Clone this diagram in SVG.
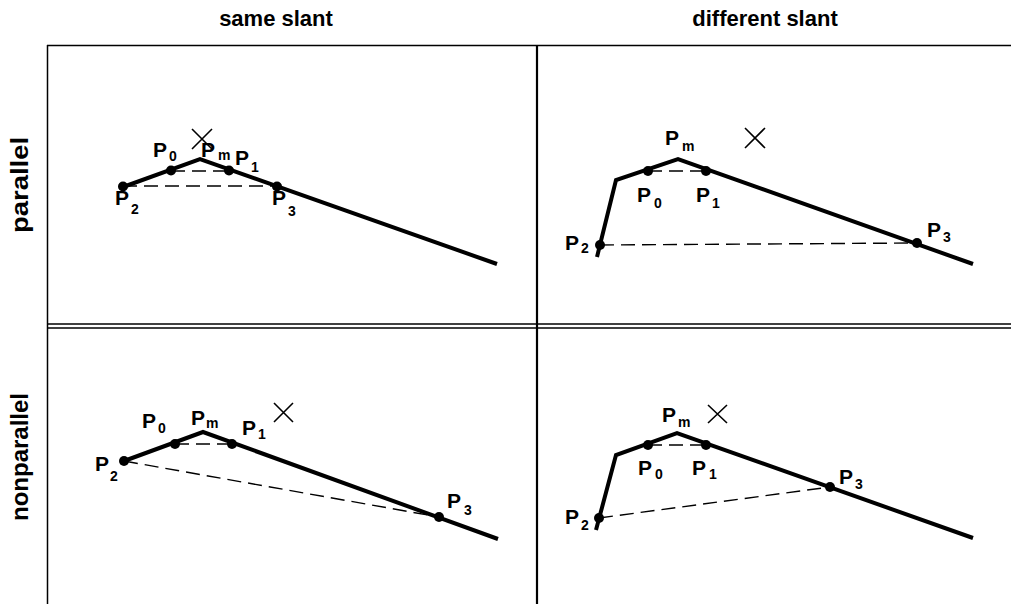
<svg xmlns="http://www.w3.org/2000/svg" width="1011" height="604" viewBox="0 0 1011 604">
<style>
.hdr{font-family:"Liberation Sans",Arial,sans-serif;font-weight:bold;font-size:22px;fill:#000}
.side{font-family:"Liberation Sans",Arial,sans-serif;font-weight:bold;font-size:24px;fill:#000}
.p{font-family:"Liberation Sans",Arial,sans-serif;font-weight:bold;font-size:21px;fill:#000}
.s{font-family:"Liberation Sans",Arial,sans-serif;font-weight:bold;font-size:14px;fill:#000}
.frame{stroke:#000;stroke-width:1.5;fill:none}
.curve{stroke:#000;stroke-width:4;fill:none;stroke-linejoin:miter}
.dash{stroke:#000;stroke-width:1.4;fill:none;stroke-dasharray:14,7}
.cross{stroke:#000;stroke-width:1.6;fill:none}
.dot{fill:#000}
</style>
<rect width="1011" height="604" fill="#fff"/>
<g id="frame">
<line class="frame" x1="47" y1="45.5" x2="1011" y2="45.5"/>
<line class="frame" x1="47.5" y1="45" x2="47.5" y2="604"/>
<line class="frame" x1="537" y1="45" x2="537" y2="604" style="stroke-width:2.2"/>
<line class="frame" x1="47" y1="324" x2="1011" y2="324"/>
<line class="frame" x1="47" y1="328" x2="1011" y2="328"/>
</g>
<g id="headers">
<text class="hdr" x="276" y="26" text-anchor="middle">same slant</text>
<text class="hdr" x="765" y="26" text-anchor="middle">different slant</text>
<text class="side" transform="translate(28,185) rotate(-90)" text-anchor="middle" textLength="96" lengthAdjust="spacingAndGlyphs">parallel</text>
<text class="side" transform="translate(28,457) rotate(-90)" text-anchor="middle" textLength="128" lengthAdjust="spacingAndGlyphs">nonparallel</text>
</g>
<g id="panel-same-parallel">
<polyline class="curve" points="123,187 200,159 497,264"/>
<line class="dash" x1="171" y1="171" x2="229" y2="171"/>
<line class="dash" x1="123" y1="186" x2="277" y2="186"/>
<circle class="dot" cx="123" cy="186.5" r="5"/>
<circle class="dot" cx="171" cy="170.5" r="5"/>
<circle class="dot" cx="229" cy="170.5" r="5"/>
<circle class="dot" cx="277" cy="186.5" r="5"/>
<path class="cross" d="M192,129 L212,149 M212,129 L192,149"/>
<text class="p" x="153" y="157">P</text><text class="s" x="169" y="161">0</text>
<text class="p" x="201" y="157">P</text><text class="s" x="218" y="160">m</text>
<text class="p" x="235" y="165">P</text><text class="s" x="251" y="172">1</text>
<text class="p" x="115" y="205">P</text><text class="s" x="131" y="214">2</text>
<text class="p" x="272" y="205">P</text><text class="s" x="288" y="216">3</text>
</g>
<g id="panel-different-parallel">
<polyline class="curve" points="597,257 616,180 678,159 973,264"/>
<line class="dash" x1="648" y1="171" x2="706" y2="171"/>
<line class="dash" x1="600" y1="245" x2="917" y2="243"/>
<circle class="dot" cx="648" cy="171" r="5"/>
<circle class="dot" cx="706" cy="171" r="5"/>
<circle class="dot" cx="600" cy="245" r="5"/>
<circle class="dot" cx="917" cy="243" r="5"/>
<path class="cross" d="M745,128 L765,148 M765,128 L745,148"/>
<text class="p" x="665" y="145">P</text><text class="s" x="682" y="151">m</text>
<text class="p" x="637" y="202">P</text><text class="s" x="654" y="208">0</text>
<text class="p" x="696" y="202">P</text><text class="s" x="712" y="208">1</text>
<text class="p" x="565" y="250">P</text><text class="s" x="581" y="253">2</text>
<text class="p" x="927" y="237">P</text><text class="s" x="943" y="242">3</text>
</g>
<g id="panel-same-nonparallel">
<polyline class="curve" points="124,461 203,432 498,539"/>
<line class="dash" x1="175" y1="444" x2="232" y2="444"/>
<line class="dash" x1="124" y1="461" x2="439" y2="517"/>
<circle class="dot" cx="124" cy="461" r="5"/>
<circle class="dot" cx="175" cy="444" r="5"/>
<circle class="dot" cx="232" cy="444" r="5"/>
<circle class="dot" cx="439" cy="517" r="5"/>
<path class="cross" d="M274,403 L293,422 M293,403 L274,422"/>
<text class="p" x="142" y="428">P</text><text class="s" x="158" y="433">0</text>
<text class="p" x="191" y="425">P</text><text class="s" x="206" y="428">m</text>
<text class="p" x="242" y="435">P</text><text class="s" x="258" y="439">1</text>
<text class="p" x="95" y="471">P</text><text class="s" x="110" y="481">2</text>
<text class="p" x="447" y="508">P</text><text class="s" x="464" y="515">3</text>
</g>
<g id="panel-different-nonparallel">
<polyline class="curve" points="596,530 616,455 677,433 973,538"/>
<line class="dash" x1="648" y1="445" x2="706" y2="445"/>
<line class="dash" x1="599" y1="518" x2="830" y2="487"/>
<circle class="dot" cx="648" cy="445" r="5"/>
<circle class="dot" cx="706" cy="445" r="5"/>
<circle class="dot" cx="599" cy="518" r="5"/>
<circle class="dot" cx="830" cy="487" r="5"/>
<path class="cross" d="M708,405 L727,423 M727,405 L708,423"/>
<text class="p" x="662" y="422">P</text><text class="s" x="678" y="427">m</text>
<text class="p" x="638" y="475">P</text><text class="s" x="655" y="479">0</text>
<text class="p" x="692" y="475">P</text><text class="s" x="709" y="479">1</text>
<text class="p" x="565" y="524">P</text><text class="s" x="581" y="530">2</text>
<text class="p" x="839" y="484">P</text><text class="s" x="855" y="489">3</text>
</g>
</svg>
